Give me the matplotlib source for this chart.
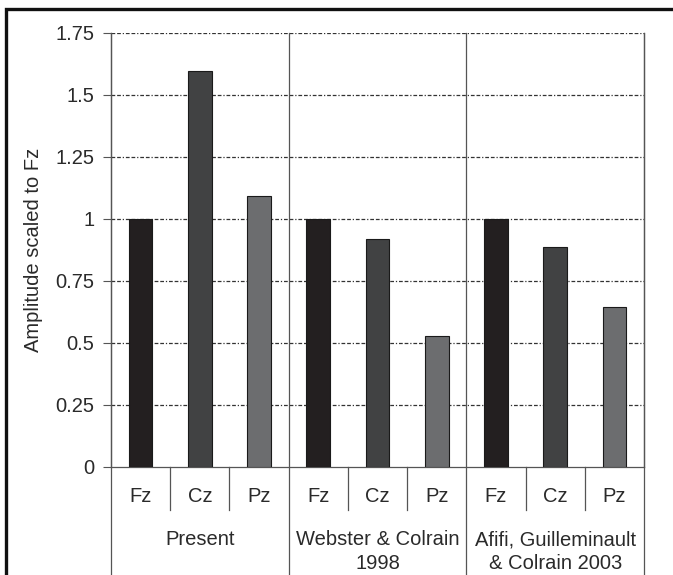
import matplotlib.pyplot as plt
import matplotlib.transforms as mtransforms
from matplotlib.patches import Rectangle

# data
groups = ["Present", "Webster & Colrain\n1998", "Afifi, Guilleminault\n& Colrain 2003"]
sites = ["Fz", "Cz", "Pz"]
present = [1.0, 1.598, 1.092]
webster = [1.0, 0.918, 0.527]
afifi = [1.0, 0.886, 0.647]
yticks = [0, 0.25, 0.5, 0.75, 1, 1.25, 1.5, 1.75]
ytick_labels = ["0", "0.25", "0.5", "0.75", "1", "1.25", "1.5", "1.75"]
site_colors = ["#231f20", "#414243", "#6c6d6f"]

plt.rcParams["font.family"] = ["Liberation Sans", "DejaVu Sans"]
text_color = "#2a2a2a"
line_color = "#555555"

fig = plt.figure(figsize=(6.73, 5.75), dpi=100)
ax = fig.add_axes([111 / 673, 1 - 467 / 575, (644 - 111) / 673, (467 - 33) / 575])

values = present + webster + afifi
colors = site_colors * len(groups)
xs = list(range(len(values)))
ax.bar(xs, values, width=0.4, color=colors, edgecolor="#1a1a1a",
       linewidth=0.8, zorder=3)

ax.set_xlim(-0.5, len(values) - 0.5)
ax.set_ylim(0, 1.75)
ax.set_yticks(yticks)
ax.set_yticklabels(ytick_labels)
ax.set_xticks([])
ax.tick_params(axis="y", length=6, width=0.8, color=line_color,
               labelsize=14.5, labelcolor=text_color, pad=6)
ax.set_ylabel("Amplitude scaled to Fz", fontsize=14.5, color=text_color, labelpad=9)

for y in yticks[1:]:
    ax.axhline(y, color="#333333", linewidth=0.9,
               linestyle=(0, (3, 1.5, 3, 1.5, 1, 1.5)), zorder=1)

ax.spines["top"].set_visible(False)
for side in ["left", "right", "bottom"]:
    ax.spines[side].set_color(line_color)
    ax.spines[side].set_linewidth(0.9)

# category table below the axis
trans = mtransforms.blended_transform_factory(ax.transData, ax.transAxes)
n = len(sites)
for g in range(len(groups) + 1):
    x = g * n - 0.5
    ax.plot([x, x], [1, -0.35], transform=trans, color=line_color,
            linewidth=0.9, clip_on=False, zorder=2)
for g in range(len(groups)):
    for s in range(1, n):
        x = g * n + s - 0.5
        ax.plot([x, x], [0, -0.099], transform=trans, color=line_color,
                linewidth=0.9, clip_on=False)
    for s in range(n):
        ax.text(g * n + s, -0.069, sites[s], transform=trans, ha="center",
                va="center", fontsize=14.5, color=text_color)
    ax.text(g * n + 1, -0.146, groups[g], transform=trans, ha="center",
            va="top", fontsize=14.5, color=text_color, linespacing=1.3)

# thick outer frame (cut off at right and bottom)
fig.add_artist(Rectangle((6 / 673, -0.1), 1.2, 1.1 - 9 / 575,
                         transform=fig.transFigure, fill=False,
                         edgecolor="#111111", linewidth=2.4))

fig.savefig("out.png", dpi=100)
